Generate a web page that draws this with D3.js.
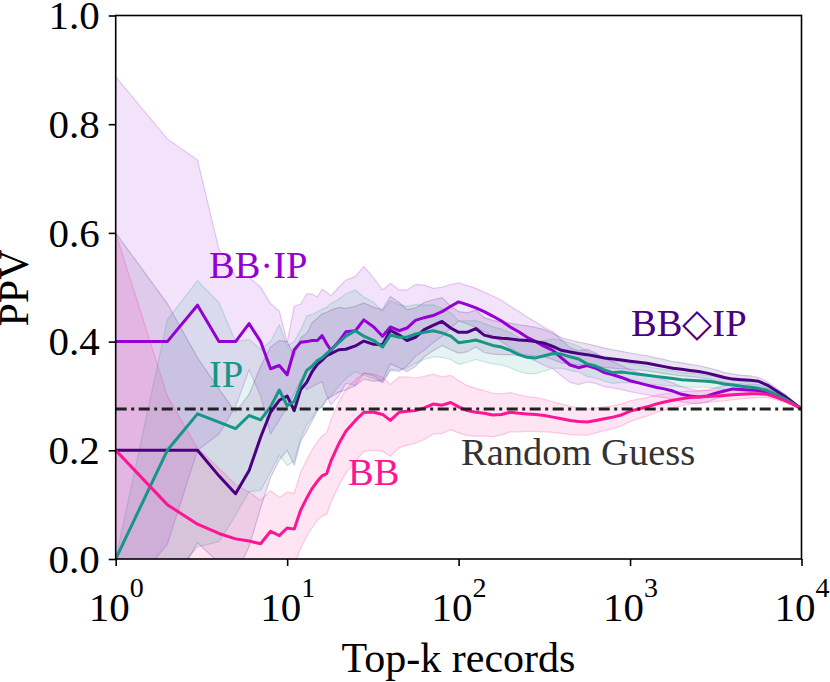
<!DOCTYPE html>
<html>
<head>
<meta charset="utf-8">
<script src="https://cdn.jsdelivr.net/npm/d3@7"></script>
<style>
  html, body { margin: 0; padding: 0; background: #fff; }
  svg { display: block; }
  text { font-family: "Liberation Serif", "Times New Roman", serif; }
</style>
</head>
<body>
<svg id="chart" width="830" height="682"></svg>
<script>
// ---- data ----
const ks = [1,2,3,4,5,6,7,8,9,10,11,12,13,14,15,16,17,18,
  20,22,25,28,32,36,40,45,50,56,63,71,80,90,
  100,112,126,141,158,178,200,224,251,282,316,355,398,447,501,562,631,708,794,891,
  1000,1122,1259,1413,1585,1778,1995,2239,2512,2818,3162,3548,3981,4467,5012,5623,6310,7079,7943,8913,10000];

const bbipMean = [.400,.400,.467,.400,.400,.433,.400,.350,.356,.339,.385,.399,.400,.402,.402,.411,.396,.384,
  .400,.418,.420,.440,.427,.410,.427,.420,.425,.439,.444,.448,.455,.465,
  .473,.468,.462,.455,.447,.438,.427,.418,.408,.400,.391,.384,.370,.357,.352,.356,.351,.343,.339,.334,
  .328,.324,.320,.316,.313,.309,.303,.300,.298,.300,.305,.309,.313,.312,.311,.310,.307,.301,.295,.287,.276];
const bbipSd = [.487,.373,.267,.170,.120,.085,.100,.120,.100,.060,.080,.070,.088,.085,.080,.085,.095,.100,
  .100,.095,.100,.098,.090,.085,.080,.075,.070,.066,.060,.050,.045,.040,
  .035,.035,.036,.036,.037,.038,.038,.038,.037,.036,.035,.034,.033,.032,.031,.030,.028,.026,.024,.022,
  .020,.019,.018,.017,.016,.015,.014,.013,.012,.011,.010,.010,.009,.008,.008,.007,.006,.005,.004,.003,0];

const bbdipMean = [.200,.200,.200,.153,.120,.163,.224,.270,.292,.300,.273,.312,.325,.345,.358,.366,.374,.378,
  .385,.386,.392,.401,.395,.394,.421,.412,.402,.408,.422,.430,.437,.425,
  .417,.417,.424,.412,.408,.406,.405,.403,.402,.400,.397,.391,.384,.381,.378,.376,.373,.370,.368,.366,
  .364,.362,.360,.357,.354,.351,.349,.347,.345,.342,.338,.334,.331,.330,.329,.327,.320,.310,.300,.288,.276];
const bbdipSd = [.400,.270,.170,.160,.150,.140,.130,.120,.110,.100,.100,.095,.090,.090,.085,.085,.080,.080,
  .078,.075,.073,.070,.068,.065,.062,.060,.057,.054,.050,.047,.044,.040,
  .038,.036,.034,.032,.031,.030,.029,.028,.027,.026,.025,.024,.023,.022,.021,.020,.019,.018,.017,.016,
  .015,.014,.014,.013,.013,.012,.012,.011,.011,.010,.010,.009,.009,.008,.008,.007,.006,.005,.004,.003,0];

const ipMean = [.000,.200,.267,.252,.240,.264,.256,.280,.311,.282,.290,.322,.347,.355,.365,.370,.378,.385,
  .398,.410,.420,.410,.402,.390,.412,.408,.408,.414,.417,.420,.416,.410,
  .398,.400,.403,.398,.393,.390,.384,.376,.371,.370,.374,.378,.377,.372,.368,.359,.355,.348,.343,.344,
  .342,.340,.338,.336,.334,.332,.330,.329,.328,.327,.325,.322,.320,.318,.316,.314,.310,.303,.295,.286,.276];
const ipSd = [.000,.240,.245,.220,.160,.140,.130,.120,.120,.110,.110,.100,.100,.095,.090,.090,.085,.085,
  .080,.078,.075,.072,.070,.066,.063,.060,.057,.054,.050,.048,.045,.043,
  .040,.038,.036,.035,.034,.033,.032,.031,.030,.029,.028,.027,.026,.025,.024,.023,.022,.021,.020,.019,
  .018,.017,.016,.015,.015,.014,.013,.013,.012,.011,.011,.010,.009,.009,.008,.007,.006,.005,.004,.003,0];

const bbMean = [.200,.100,.064,.047,.037,.033,.028,.051,.043,.057,.055,.090,.112,.130,.143,.153,.157,.180,
  .212,.235,.255,.270,.270,.266,.255,.270,.272,.273,.278,.285,.283,.288,
  .280,.273,.270,.268,.265,.266,.270,.268,.267,.266,.264,.261,.258,.255,.253,.252,.255,.258,.261,.265,
  .272,.276,.280,.285,.289,.292,.295,.297,.298,.299,.300,.301,.302,.303,.304,.304,.303,.298,.292,.285,.276];
const bbSd = [.400,.200,.140,.120,.100,.090,.080,.075,.070,.066,.066,.070,.070,.072,.072,.074,.075,.076,
  .077,.077,.075,.072,.070,.068,.066,.065,.063,.060,.058,.055,.052,.050,
  .048,.046,.044,.042,.040,.038,.036,.034,.032,.031,.030,.028,.027,.026,.025,.024,.023,.022,.021,.020,
  .019,.018,.017,.016,.015,.014,.013,.012,.011,.011,.010,.010,.009,.008,.008,.007,.006,.005,.004,.003,0];

const randomGuess = 0.276;
const xTicks = [1, 10, 100, 1000, 10000];
const yTicks = [0, 0.2, 0.4, 0.6, 0.8, 1.0];

const seriesNames = ["BB·IP", "BB◇IP", "IP", "BB"];
const seriesColors = ["#9400D3", "#4B0082", "#169685", "#FF1493"];

// ---- build ----
const series = [
  {name: seriesNames[0], color: seriesColors[0], mean: bbipMean, sd: bbipSd},
  {name: seriesNames[1], color: seriesColors[1], mean: bbdipMean, sd: bbdipSd},
  {name: seriesNames[2], color: seriesColors[2], mean: ipMean, sd: ipSd},
  {name: seriesNames[3], color: seriesColors[3], mean: bbMean, sd: bbSd}
].map(s => ({...s, pts: ks.map((k, i) => ({k, m: s.mean[i], lo: s.mean[i] - s.sd[i], hi: s.mean[i] + s.sd[i]}))}));

const svg = d3.select("#chart");
const L = 115.7, R = 801.5, T = 15.5, B = 559;
const x = d3.scaleLog().domain([1, 1e4]).range([L, R]);
const y = d3.scaleLinear().domain([0, 1]).range([B, T]);

svg.append("defs").append("clipPath").attr("id", "clip")
  .append("rect").attr("x", L).attr("y", T).attr("width", R - L).attr("height", B - T);

const plot = svg.append("g").attr("clip-path", "url(#clip)");

const area = d3.area().x(d => x(d.k)).y0(d => y(d.lo)).y1(d => y(d.hi));
const line = d3.line().x(d => x(d.k)).y(d => y(d.m));
const edgeLo = d3.line().x(d => x(d.k)).y(d => y(d.lo));
const edgeHi = d3.line().x(d => x(d.k)).y(d => y(d.hi));

// bands
series.forEach(s => {
  plot.append("path").datum(s.pts).attr("d", area)
    .attr("fill", s.color).attr("fill-opacity", 0.11).attr("stroke", "none");
  plot.append("path").datum(s.pts).attr("d", edgeLo)
    .attr("fill", "none").attr("stroke", s.color).attr("stroke-opacity", 0.2).attr("stroke-width", 1.2);
  plot.append("path").datum(s.pts).attr("d", edgeHi)
    .attr("fill", "none").attr("stroke", s.color).attr("stroke-opacity", 0.2).attr("stroke-width", 1.2);
});

// mean lines
series.forEach(s => {
  plot.append("path").datum(s.pts).attr("d", line)
    .attr("fill", "none").attr("stroke", s.color).attr("stroke-width", 3)
    .attr("stroke-linejoin", "round");
});

// random guess
plot.append("line")
  .attr("x1", x(1)).attr("x2", x(1e4))
  .attr("y1", y(randomGuess)).attr("y2", y(randomGuess))
  .attr("stroke", "#222").attr("stroke-width", 3)
  .attr("stroke-dasharray", "11,4.5,3,4.5");

// axes
const xAxis = svg.append("g").attr("transform", `translate(0,${B})`)
  .call(d3.axisBottom(x).tickValues(xTicks).tickSize(7).tickPadding(26).tickFormat(d => ""));
xAxis.selectAll(".tick text").each(function(d) {
  const t = d3.select(this);
  t.append("tspan").text("10");
  t.append("tspan").attr("dy", -24).attr("font-size", 28).text(Math.round(Math.log10(d)));
});
const yAxis = svg.append("g").attr("transform", `translate(${L},0)`)
  .call(d3.axisLeft(y).tickValues(yTicks).tickSize(7).tickPadding(9).tickFormat(d3.format(".1f")));

[xAxis, yAxis].forEach(a => {
  a.select(".domain").remove();
  a.selectAll(".tick line").attr("stroke", "#000").attr("stroke-width", 1.6);
  a.selectAll(".tick text").attr("fill", "#000").attr("font-size", 41)
    .attr("font-family", "'Liberation Serif', 'Times New Roman', serif");
});

// frame
svg.append("rect").attr("x", L).attr("y", T).attr("width", R - L).attr("height", B - T)
  .attr("fill", "none").attr("stroke", "#000").attr("stroke-width", 1.6);

// axis labels
svg.append("text").attr("x", 458.5).attr("y", 671.5).attr("text-anchor", "middle")
  .attr("font-size", 42).attr("fill", "#000").text("Top-k records");
svg.append("text").attr("transform", "translate(28,288) rotate(-90)").attr("text-anchor", "middle")
  .attr("font-size", 42).attr("fill", "#000").text("PPV");

// series labels
const labelPos = [
  {x: 209, y: 278},   // BB·IP
  {x: 631, y: 336},   // BB◇IP
  {x: 209, y: 386.5}, // IP
  {x: 348, y: 485}    // BB
];
series.forEach((s, i) => {
  svg.append("text").attr("x", labelPos[i].x).attr("y", labelPos[i].y)
    .attr("font-size", 38.5).attr("fill", s.color).text(s.name);
});
svg.append("text").attr("x", 461).attr("y", 464.5).attr("font-size", 38.5)
  .attr("fill", "#333").text("Random Guess");
</script>
</body>
</html>
